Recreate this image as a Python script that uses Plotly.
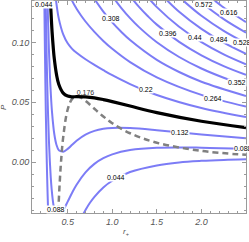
import plotly.graph_objects as go

# ---- data: isotherm contour lines (r_+, P) ----
r_044a = [0.238, 0.240, 0.245, 0.250, 0.255, 0.260, 0.265, 0.270, 0.275, 0.280, 0.285]
p_044a = [0.138, 0.124, 0.093, 0.0656, 0.0418, 0.021, 0.003, -0.0128, -0.0265, -0.0386, -0.049]
r_044b = [0.65, 0.68, 0.70, 0.75, 0.80, 0.90, 1.00, 1.20, 1.50, 1.75, 2.00, 2.25, 2.50]
p_044b = [-0.0468, -0.0425, -0.0398, -0.0338, -0.0288, -0.021, -0.0154, -0.0081, -0.0026, -0.0001, 0.0012, 0.002, 0.0025]

r_088 = [0.250, 0.255, 0.260, 0.265, 0.270, 0.280, 0.290, 0.300, 0.310, 0.320, 0.340, 0.360, 0.370, 0.390,
         0.420, 0.450, 0.500, 0.550, 0.600, 0.700, 0.800, 0.900, 1.00, 1.20, 1.50, 2.00, 2.50]
p_088 = [0.154, 0.128, 0.1056, 0.086, 0.0687, 0.040, 0.0178, 0.001, -0.0123, -0.0222, -0.0353, -0.0419, -0.0437, -0.0451,
         -0.0431, -0.0401, -0.0328, -0.0254, -0.0187, -0.0084, -0.0013, 0.0034, 0.0066, 0.0102, 0.0121, 0.0122, 0.0113]

r_132 = [0.270, 0.275, 0.280, 0.290, 0.300, 0.310, 0.325, 0.350, 0.375, 0.400, 0.425, 0.450, 0.500, 0.550,
         0.600, 0.700, 0.800, 0.900, 1.00, 1.20, 1.50, 2.00, 2.50]
p_132 = [0.150, 0.1334, 0.1186, 0.0936, 0.0742, 0.0587, 0.0414, 0.0236, 0.0144, 0.0101, 0.0092, 0.0088, 0.0112, 0.0146,
         0.018, 0.0231, 0.0262, 0.0279, 0.0286, 0.0285, 0.0268, 0.0232, 0.0201]

r_176 = [0.300, 0.310, 0.320, 0.325, 0.340, 0.350, 0.375, 0.400, 0.450, 0.500, 0.550, 0.600, 0.700, 0.800,
         0.900, 1.00, 1.20, 1.50, 2.00, 2.50]
p_176 = [0.1475, 0.1297, 0.1153, 0.109, 0.0941, 0.0864, 0.0731, 0.0651, 0.0577, 0.0552, 0.0546, 0.0547, 0.0545, 0.0537,
         0.0523, 0.0506, 0.0469, 0.0414, 0.0342, 0.0289]

r_220 = [0.36, 0.37, 0.38, 0.40, 0.45, 0.50, 0.55, 0.60, 0.70, 0.80, 0.90, 1.00, 1.20, 1.50, 2.00, 2.50]
p_220 = [0.1414, 0.1347, 0.129, 0.120, 0.1066, 0.0992, 0.0946, 0.0913, 0.0859, 0.0812, 0.0768, 0.0726, 0.0652, 0.0561, 0.0452, 0.0377]

r_264 = [0.50, 0.55, 0.60, 0.65, 0.70, 0.80, 0.90, 1.00, 1.20, 1.50, 2.00, 2.50]
p_264 = [0.1432, 0.1346, 0.128, 0.1224, 0.1174, 0.1087, 0.1012, 0.0946, 0.0835, 0.0708, 0.0562, 0.0465]

r_308 = [0.75, 0.80, 0.90, 1.00, 1.10, 1.20, 1.50, 1.75, 2.00, 2.50]
p_308 = [0.1422, 0.1362, 0.1257, 0.1166, 0.1088, 0.1019, 0.0854, 0.0753, 0.0672, 0.0553]

r_352 = [1.00, 1.10, 1.20, 1.30, 1.50, 1.75, 2.00, 2.25, 2.50]
p_352 = [0.1386, 0.1288, 0.1202, 0.1127, 0.1001, 0.0878, 0.0782, 0.0705, 0.0641]

r_396 = [1.20, 1.30, 1.40, 1.50, 1.75, 2.00, 2.25, 2.50]
p_396 = [0.1385, 0.1296, 0.1218, 0.1148, 0.1004, 0.0892, 0.0802, 0.0729]

r_440 = [1.40, 1.50, 1.75, 2.00, 2.25, 2.50]
p_440 = [0.1375, 0.1294, 0.113, 0.1002, 0.090, 0.0817]

r_484 = [1.60, 1.75, 2.00, 2.25, 2.50]
p_484 = [0.1361, 0.1255, 0.1112, 0.0998, 0.0905]

r_528 = [1.80, 2.00, 2.25, 2.50]
p_528 = [0.1346, 0.1222, 0.1096, 0.0993]

r_572 = [1.95, 2.00, 2.25, 2.50]
p_572 = [0.1364, 0.1332, 0.1194, 0.1081]

r_616 = [2.15, 2.20, 2.25, 2.50]
p_616 = [0.1347, 0.1319, 0.1291, 0.1169]

# spinodal (dashed)
r_spin = [0.390, 0.395, 0.410, 0.425, 0.450, 0.500, 0.550, 0.600, 0.650, 0.700, 0.800, 0.900, 1.00, 1.20, 1.50, 2.00, 2.50]
p_spin = [-0.0495, -0.0407, -0.018, -0.0003, 0.021, 0.044, 0.0529, 0.055, 0.0539, 0.0512, 0.0446, 0.0382, 0.0326, 0.0242, 0.0163, 0.0095, 0.0062]

# contour labels
lab_text = ["0.044", "0.308", "0.396", "0.44", "0.484", "0.528", "0.572", "0.616",
            "0.352", "0.264", "0.22", "0.132", "0.088", "0.044", "0.088"]
lab_r = [0.23, 0.983, 1.624, 1.927, 2.197, 2.455, 2.028, 2.309, 2.399, 2.129, 1.376, 1.758, 2.466, 1.039, 0.365]
lab_p = [0.1313, 0.1197, 0.1072, 0.1039, 0.1022, 0.0997, 0.1313, 0.1247, 0.0665, 0.0533, 0.0608, 0.025, 0.0119, -0.013, -0.0396]

x_ticks = [0.5, 1.0, 1.5, 2.0, 2.5]
y_ticks = [0.0, 0.05, 0.10]

BLUE = "rgba(110,110,245,0.9)"
fig = go.Figure()

blue_sets = [(r_044a, p_044a), (r_044b, p_044b), (r_088, p_088), (r_132, p_132), (r_220, p_220),
             (r_264, p_264), (r_308, p_308), (r_352, p_352), (r_396, p_396), (r_440, p_440),
             (r_484, p_484), (r_528, p_528), (r_572, p_572), (r_616, p_616)]
for rr, pp in blue_sets:
    fig.add_trace(go.Scatter(x=rr, y=pp, mode="lines", line=dict(color=BLUE, width=2, shape="spline"),
                             hoverinfo="skip", showlegend=False))

fig.add_trace(go.Scatter(x=r_spin, y=p_spin, mode="lines",
                         line=dict(color="rgb(128,128,128)", width=2.5, dash="6px,4px", shape="spline"),
                         showlegend=False))
fig.add_trace(go.Scatter(x=[0.70], y=[0.0575], mode="text", text=["0.176"],
                         textfont=dict(size=7, color="#333"), showlegend=False))
fig.add_trace(go.Scatter(x=r_176, y=p_176, mode="lines", line=dict(color="black", width=3.2, shape="spline"),
                         showlegend=False))

for t, xr, yp in zip(lab_text, lab_r, lab_p):
    fig.add_annotation(x=xr, y=yp, text=t, showarrow=False, font=dict(size=7, color="black",
                       family="Liberation Sans"), bgcolor="white", borderpad=0)

# axis titles
fig.add_annotation(xref="paper", yref="paper", x=0.44, y=-0.09, text="<i>r</i><sub>+</sub>",
                   showarrow=False, font=dict(size=8, color="#555", family="Liberation Sans"),
                   xanchor="center", yanchor="middle")
fig.add_annotation(xref="paper", yref="paper", x=-0.135, y=0.5, text="<i>P</i>", textangle=-90,
                   showarrow=False, font=dict(size=8, color="#555", family="Liberation Sans"),
                   xanchor="center", yanchor="middle")

axis_common = dict(showline=True, linecolor="#9a9a9a", linewidth=1, mirror="ticks", ticks="inside",
                   ticklen=4, tickcolor="#9a9a9a", showgrid=False, zeroline=False, automargin=False,
                   tickfont=dict(size=9, color="#555", family="Liberation Sans"))
fig.update_xaxes(range=[0.1, 2.5], tickvals=x_ticks, ticktext=["<i>0.5</i>", "<i>1.0</i>", "<i>1.5</i>", "<i>2.0</i>", "<i>2.5</i>"],
                 minor=dict(ticks="inside", dtick=0.1, tick0=0.0, ticklen=2, tickcolor="#9a9a9a"),
                 **axis_common)
fig.update_yaxes(range=[-0.0423, 0.1345], tickvals=y_ticks, ticktext=["<i>0.00</i>", "<i>0.05</i>", "<i>0.10</i>"],
                 minor=dict(ticks="inside", dtick=0.01, tick0=0.0, ticklen=2, tickcolor="#9a9a9a"),
                 **axis_common)
fig.update_layout(template="none", width=249, height=242, margin=dict(l=32, r=3, t=1, b=29),
                  plot_bgcolor="white", paper_bgcolor="white", showlegend=False,
                  font=dict(family="Liberation Sans", size=9, color="#555"))
fig.write_html("out.html", config={"displayModeBar": False},
               post_script="document.body.style.margin='0';document.body.style.overflow='hidden';")
